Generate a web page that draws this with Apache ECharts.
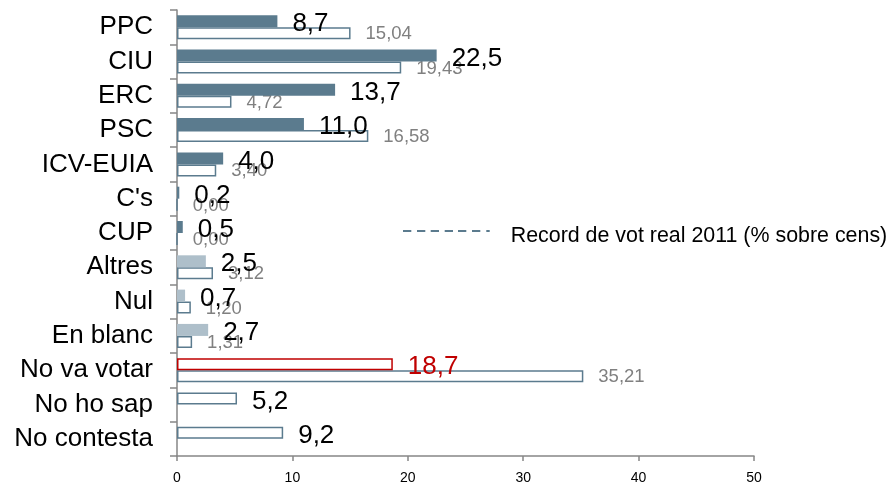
<!DOCTYPE html>
<html>
<head>
<meta charset="utf-8">
<script src="https://cdn.jsdelivr.net/npm/echarts@6/dist/echarts.min.js"></script>
<style>
html,body{margin:0;padding:0;background:#fff;}
#chart{width:888px;height:484px;}
</style>
</head>
<body>
<div id="chart"></div>
<script>
const categories = ['PPC', 'CIU', 'ERC', 'PSC', 'ICV-EUIA', "C's", 'CUP', 'Altres', 'Nul', 'En blanc', 'No va votar', 'No ho sap', 'No contesta'];
const survey = [8.7, 22.5, 13.7, 11.0, 4.0, 0.2, 0.5, 2.5, 0.7, 2.7, 18.7, 5.2, 9.2];
const real2011 = [15.04, 19.43, 4.72, 16.58, 3.40, 0.00, 0.00, 3.12, 1.20, 1.31, 35.21, null, null];
const xTicks = [0, 10, 20, 30, 40, 50];
const legendName = 'Record de vot real 2011 (% sobre cens)';

const FONT = '"Liberation Sans", Arial, sans-serif';
const DARK = '#5B7B8E';
const LIGHT = '#AEBFCA';
const RED = '#C00000';
const AXIS = '#868686';

const partyGroup = ['PPC', 'CIU', 'ERC', 'PSC', 'ICV-EUIA', "C's", 'CUP'];
const otherGroup = ['Altres', 'Nul', 'En blanc'];

function surveyStyle(cat) {
  if (partyGroup.includes(cat)) return { itemStyle: { color: DARK }, label: { color: '#000' } };
  if (otherGroup.includes(cat)) return { itemStyle: { color: LIGHT }, label: { color: '#000' } };
  if (cat === 'No va votar') return { itemStyle: { color: '#fff', borderColor: RED, borderWidth: 1.5 }, label: { color: RED } };
  return { itemStyle: { color: '#fff', borderColor: DARK, borderWidth: 1.5 }, label: { color: '#000' } };
}

const surveyData = survey.map((v, i) => Object.assign({ value: v }, surveyStyle(categories[i])));

const chart = echarts.init(document.getElementById('chart'), null, { renderer: 'canvas' });
chart.setOption({
  animation: false,
  backgroundColor: '#fff',
  textStyle: { fontFamily: FONT },
  grid: { left: 177, right: 134, top: 10, bottom: 28, containLabel: false, outerBoundsMode: 'none' },
  legend: {
    left: 403,
    top: 220.5,
    padding: 0,
    data: [{
      name: legendName,
      icon: 'path://M0,0h8.3v2h-8.3z M14,0h8.3v2h-8.3z M27.7,0h8.3v2h-8.3z M41.7,0h8.3v2h-8.3z M55,0h8.3v2h-8.3z M69,0h8.3v2h-8.3z M83.3,0h3.4v2h-3.4z',
      itemStyle: { color: DARK, borderWidth: 0 }
    }],
    itemWidth: 86.7,
    itemHeight: 2,
    formatter: name => '{s|}{t|' + name + '}',
    textStyle: {
      fontSize: 21.4, color: '#000', fontFamily: FONT,
      rich: {
        s: { width: 16, height: 31 },
        t: { fontSize: 21.4, lineHeight: 24, color: '#000', fontFamily: FONT, verticalAlign: 'bottom' }
      }
    },
    selectedMode: false
  },
  xAxis: {
    type: 'value',
    min: xTicks[0],
    max: xTicks[xTicks.length - 1],
    interval: xTicks[1] - xTicks[0],
    splitLine: { show: false },
    axisLine: { show: true, lineStyle: { color: AXIS, width: 1.5 } },
    axisTick: { show: true, length: 5, lineStyle: { color: AXIS, width: 1.5 } },
    axisLabel: { fontSize: 14, color: '#000', margin: 15, fontFamily: FONT }
  },
  yAxis: {
    type: 'category',
    data: categories,
    inverse: true,
    axisLine: { show: true, lineStyle: { color: AXIS, width: 1.5 } },
    axisTick: { show: true, length: 7, lineStyle: { color: AXIS, width: 1.5 } },
    axisLabel: { fontSize: 26, color: '#000', margin: 24, fontFamily: FONT }
  },
  series: [
    {
      name: 'Enquesta',
      type: 'bar',
      data: surveyData,
      barWidth: 12,
      barGap: '0%',
      label: {
        show: true,
        position: 'right',
        distance: 15,
        offset: [0, 3],
        fontSize: 26,
        fontFamily: FONT,
        formatter: p => p.value.toFixed(1).replace('.', ',')
      },
      z: 3
    },
    {
      name: legendName,
      type: 'bar',
      data: real2011,
      barWidth: 12,
      barGap: '0%',
      itemStyle: { color: '#fff', borderColor: DARK, borderWidth: 1.5 },
      label: {
        show: true,
        position: 'right',
        distance: 15,
        offset: [0, 1],
        fontSize: 18.5,
        color: '#808080',
        fontFamily: FONT,
        formatter: p => (p.value == null ? '' : p.value.toFixed(2).replace('.', ','))
      },
      z: 2
    }
  ]
});
</script>
</body>
</html>
